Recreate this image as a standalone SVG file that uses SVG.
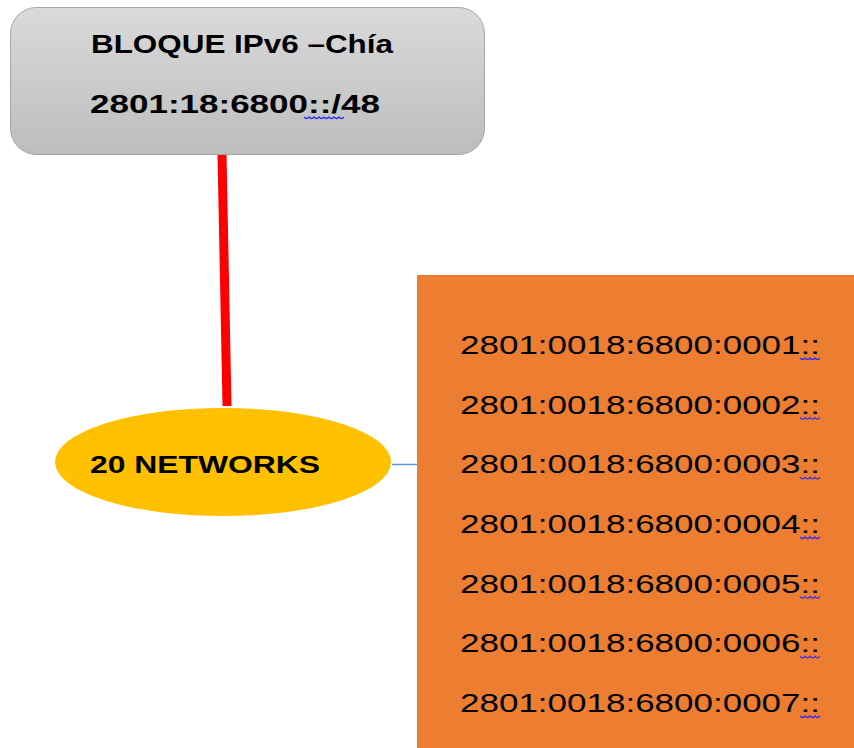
<svg xmlns="http://www.w3.org/2000/svg" width="854" height="748" viewBox="0 0 854 748">
<style>
.t{font-family:"Liberation Sans",Arial,sans-serif;fill:#000}
.b{font-weight:bold}
.addr{font-size:26px}
.sq{fill:none;stroke:#2b2bff;stroke-width:1.3}
</style>
<defs>
<linearGradient id="g" x1="0" y1="0" x2="0" y2="1">
<stop offset="0" stop-color="#dadada"/>
<stop offset="1" stop-color="#bdbdbd"/>
</linearGradient>
<path id="wave" d="M0 0 q2.5 3 5 0 q2.5 3 5 0 q2.5 3 5 0 q2.5 3 5 0"/>
</defs>
<rect width="854" height="748" fill="#fff"/>
<g id="connectors">
<line x1="222" y1="154" x2="227" y2="406" stroke="#ff0000" stroke-width="9"/>
<line x1="392" y1="464.5" x2="418" y2="464.5" stroke="#5b9bd5" stroke-width="1.5"/>
</g>
<g id="bloque">
<rect x="10.5" y="7.5" width="474" height="147" rx="26" fill="url(#g)" stroke="#a6a6a6" stroke-width="1"/>
<text class="t b" x="91" y="53" font-size="25" textLength="302" lengthAdjust="spacingAndGlyphs">BLOQUE IPv6 –Chía</text>
<text class="t b" x="90" y="113" font-size="25" textLength="290" lengthAdjust="spacingAndGlyphs">2801:18:6800::/48</text>
<use href="#wave" x="304" y="117" class="sq"/>
<use href="#wave" x="324" y="117" class="sq"/>
</g>
<g id="networks">
<ellipse cx="223" cy="462" rx="168" ry="54" fill="#ffc000"/>
<text class="t b" x="90" y="473" font-size="23" textLength="230" lengthAdjust="spacingAndGlyphs">20 NETWORKS</text>
</g>
<g id="addresses">
<rect x="417" y="275" width="437" height="473" fill="#ed7d31"/>
<text class="t addr" x="460" y="354" textLength="360" lengthAdjust="spacingAndGlyphs">2801:0018:6800:0001::</text>
<text class="t addr" x="460" y="413.7" textLength="360" lengthAdjust="spacingAndGlyphs">2801:0018:6800:0002::</text>
<text class="t addr" x="460" y="473.3" textLength="360" lengthAdjust="spacingAndGlyphs">2801:0018:6800:0003::</text>
<text class="t addr" x="460" y="533" textLength="360" lengthAdjust="spacingAndGlyphs">2801:0018:6800:0004::</text>
<text class="t addr" x="460" y="592.7" textLength="360" lengthAdjust="spacingAndGlyphs">2801:0018:6800:0005::</text>
<text class="t addr" x="460" y="652.3" textLength="360" lengthAdjust="spacingAndGlyphs">2801:0018:6800:0006::</text>
<text class="t addr" x="460" y="712" textLength="360" lengthAdjust="spacingAndGlyphs">2801:0018:6800:0007::</text>
<use href="#wave" x="800" y="358" class="sq"/>
<use href="#wave" x="800" y="417.7" class="sq"/>
<use href="#wave" x="800" y="477.3" class="sq"/>
<use href="#wave" x="800" y="537" class="sq"/>
<use href="#wave" x="800" y="596.7" class="sq"/>
<use href="#wave" x="800" y="656.3" class="sq"/>
<use href="#wave" x="800" y="716" class="sq"/>
</g>
</svg>
